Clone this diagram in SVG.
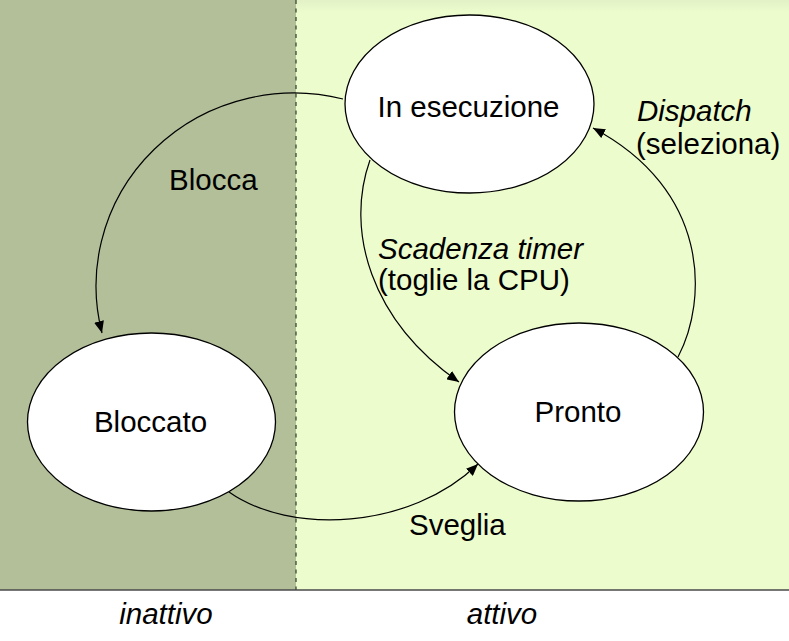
<svg xmlns="http://www.w3.org/2000/svg" width="789" height="641" viewBox="0 0 789 641">
<style>
.node ellipse{fill:#ffffff;stroke:#000000;stroke-width:1.3}
.lbl{font-family:"Liberation Sans",Arial,sans-serif;font-size:29.5px;fill:#000000}
.it{font-style:italic}
.conn path{fill:none;stroke:#000000;stroke-width:1.2;marker-end:url(#arr)}
</style>
<defs>
<marker id="arr" viewBox="0 0 12 10" refX="12" refY="5" markerWidth="12" markerHeight="10" markerUnits="userSpaceOnUse" orient="auto">
<path d="M0,0 L12,5 L0,10 Z" fill="#000000"/>
</marker>
<linearGradient id="topfade" x1="0" y1="0" x2="0" y2="1">
<stop offset="0" stop-color="#e3f1c6"/>
<stop offset="1" stop-color="#ecfccc"/>
</linearGradient>
</defs>
<rect x="0" y="0" width="789" height="641" fill="#ffffff"/>
<g id="background">
<rect x="0" y="0" width="296" height="590" fill="#b2bf99"/>
<rect x="296" y="0" width="493" height="590" fill="#ecfccc"/>
<rect x="296" y="0" width="493" height="12" fill="url(#topfade)"/>
<line x1="296" y1="0" x2="296" y2="590" stroke="#3c4a36" stroke-width="1.3" stroke-dasharray="4,4.5"/>
<line x1="0" y1="590" x2="789" y2="590" stroke="#4a4a4a" stroke-width="1.5"/>
</g>
<g id="connectors" class="conn">
<path d="M343,99 A198,193 0 0,0 102,333"/>
<path d="M370,160 C345,230 370,320 459,382"/>
<path d="M678,357 C708,300 710,190 593,128"/>
<path d="M229,492 C290,535 410,530 478,464"/>
</g>
<g id="node-esecuzione" class="node">
<ellipse cx="469.5" cy="104" rx="124.5" ry="89"/>
<text class="lbl" x="468.5" y="116.5" text-anchor="middle">In esecuzione</text>
</g>
<g id="node-bloccato" class="node">
<ellipse cx="151.5" cy="422" rx="124" ry="89"/>
<text class="lbl" x="150.5" y="431.5" text-anchor="middle">Bloccato</text>
</g>
<g id="node-pronto" class="node">
<ellipse cx="579" cy="412" rx="124.5" ry="89"/>
<text class="lbl" x="578" y="422" text-anchor="middle">Pronto</text>
</g>
<g id="labels">
<text class="lbl" x="169" y="189.5">Blocca</text>
<text class="lbl it" x="637" y="120.5">Dispatch</text>
<text class="lbl" x="636" y="153.5">(seleziona)</text>
<text class="lbl it" x="378" y="258.5">Scadenza timer</text>
<text class="lbl" x="378" y="289.5">(toglie la CPU)</text>
<text class="lbl" x="409" y="534.5">Sveglia</text>
<text class="lbl it" x="166" y="624" text-anchor="middle">inattivo</text>
<text class="lbl it" x="502" y="624" text-anchor="middle">attivo</text>
</g>
</svg>
